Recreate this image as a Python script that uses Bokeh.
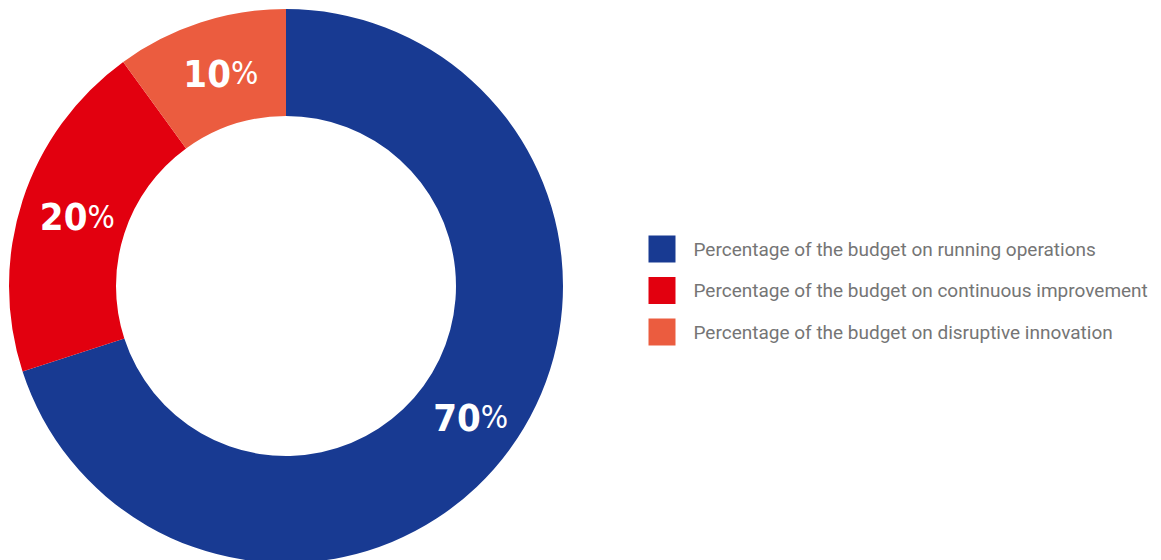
import math
from bokeh.plotting import figure
from bokeh.models import Range1d, ColumnDataSource
from bokeh.core.properties import value
from bokeh.embed import file_html
from bokeh.resources import INLINE

# ---- data ----
categories = [
    "Percentage of the budget on running operations",
    "Percentage of the budget on continuous improvement",
    "Percentage of the budget on disruptive innovation",
]
shares = [70, 20, 10]
colors = ["#183a92", "#e2000f", "#eb5c3f"]

# ---- layout (pixel-like data units) ----
W, H = 1161, 560
cx, cy = 285.5, H - 285.5
r_out, r_in = 277, 170

p = figure(width=W, height=H, x_range=Range1d(0, W), y_range=Range1d(0, H),
           output_backend="svg", toolbar_location=None,
           x_axis_location=None, y_axis_location=None, min_border=0)
p.grid.visible = False
p.outline_line_color = None
p.background_fill_color = "white"

# wedges: start at top, go clockwise
total = float(sum(shares))
starts, ends, mids = [], [], []
a = math.pi / 2
for s in shares:
    span = 2 * math.pi * s / total
    starts.append(a - span)
    ends.append(a)
    mids.append(a - span / 2)
    a -= span

src = ColumnDataSource(dict(start=starts, end=ends, color=colors))
p.annular_wedge(x=cx, y=cy, inner_radius=r_in, outer_radius=r_out,
                start_angle="start", end_angle="end", fill_color="color",
                line_color=None, source=src)

# labels
r_lab = (r_in + r_out) / 2
num_x, num_y, pct_x = [], [], []
nums = [str(s) for s in shares]
for m in mids:
    lx = cx + r_lab * math.cos(m) + 6
    ly = cy + r_lab * math.sin(m)
    num_x.append(lx + 8)
    pct_x.append(lx + 8)
    num_y.append(ly)

lab_font = value("'DejaVu Sans Condensed', 'Roboto'")
p.text(x=num_x, y=num_y, text=nums, text_align="right", text_baseline="middle",
       text_font=lab_font, text_font_style="bold",
       text_font_size="38px", text_color="white")
p.text(x=pct_x, y=num_y, text=["%"] * len(nums), text_align="left", text_baseline="middle",
       text_font=lab_font, text_font_style="normal",
       text_font_size="32px", text_color="white")

# legend (manual)
lg_x = 661.5
lg_y0 = H - 248.5
lg_dy = 41.5
ys = [lg_y0 - i * lg_dy for i in range(len(categories))]
p.rect(x=[lg_x] * len(categories), y=ys, width=27, height=27,
       fill_color=colors, line_color=None)
p.text(x=[693] * len(categories), y=ys, text=categories, text_align="left",
       text_baseline="middle", text_font=value("Roboto"), text_font_size="19px",
       text_color="#757575")

open("out.html", "w").write(file_html(p, INLINE))
